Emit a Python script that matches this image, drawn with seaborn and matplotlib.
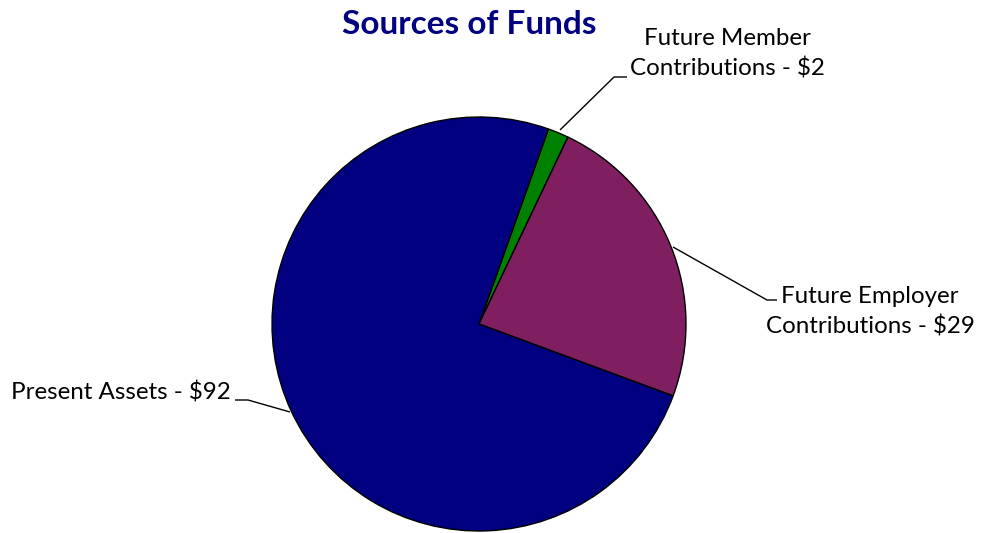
import matplotlib
matplotlib.use("Agg")
import matplotlib.pyplot as plt
import seaborn as sns

# Sources of funds (in $)
categories = ["Future Member\nContributions - $2",
              "Future Employer\nContributions - $29",
              "Present Assets - $92"]
values = [2, 29, 92]
colors = ["#008000", "#7F1F5F", "#000080"]

sns.set_theme(style="white")
plt.rcParams["font.family"] = ["Lato", "DejaVu Sans"]

W, H = 984, 533
fig = plt.figure(figsize=(W / 100, H / 100), dpi=100)
ax = fig.add_axes([0, 0, 1, 1])

cx, cy, r = 479, H - 324, 207
wedges, _ = ax.pie(values, colors=colors, startangle=70.4, counterclock=False,
                   center=(cx, cy), radius=r, frame=True,
                   wedgeprops=dict(edgecolor="black", linewidth=1.0))
ax.set_xlim(0, W)
ax.set_ylim(0, H)
ax.set_aspect("equal")
ax.axis("off")

# leader lines (y measured from the top of the figure)
def line(pts):
    xs = [p[0] for p in pts]
    ys = [H - p[1] for p in pts]
    ax.plot(xs, ys, color="black", lw=1.0, solid_capstyle="butt")

line([(560, 130), (614, 77), (627, 77)])
line([(673, 247), (767, 300), (777, 300)])
line([(290, 412), (248, 400), (235, 400)])

fs = 17.4
ax.text(727, H - 54, categories[0], ha="center", va="center",
        fontsize=fs, linespacing=1.45, color="black")
ax.text(870, H - 312, categories[1], ha="center", va="center",
        fontsize=fs, linespacing=1.45, color="black")
ax.text(231, H - 393, categories[2], ha="right", va="center",
        fontsize=fs, color="black")

ax.text(469, H - 24, "Sources of Funds", ha="center", va="center",
        fontsize=24, fontweight="bold", color="#000080")

fig.savefig("out.png", dpi=100)
